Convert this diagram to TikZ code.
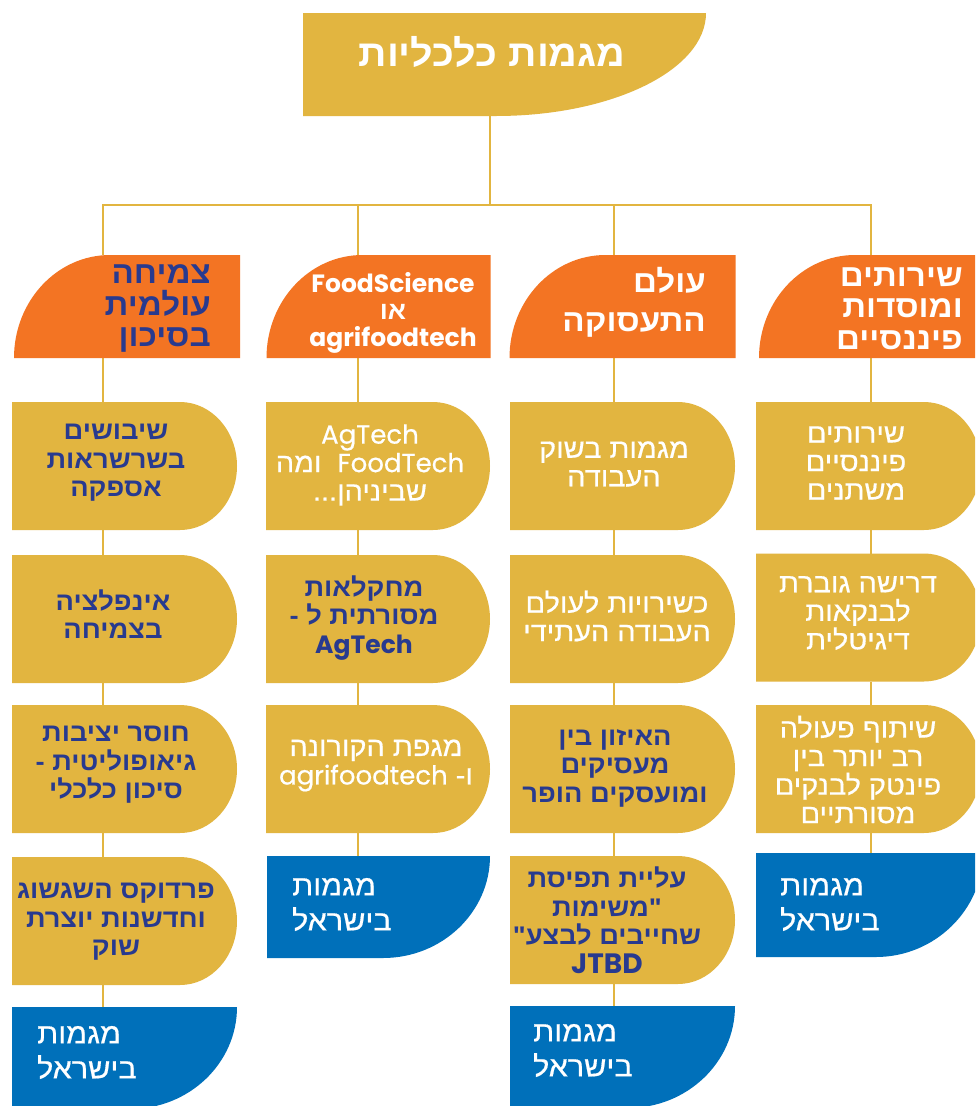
\documentclass[tikz,border=0pt]{standalone}
\usepackage{fontspec}
\setmainfont{Liberation Sans}
\newfontfamily\hebf[Script=Hebrew, FakeStretch=1.07]{Liberation Sans}
\newfontfamily\hebm[Script=Hebrew, FakeStretch=1.07, FakeBold=0.6]{Liberation Sans}
\newfontfamily\latf{Poppins}
\newfontfamily\latm[FakeBold=0.6]{Poppins}
\TeXXeTstate=1
\definecolor{ycol}{HTML}{E2B540}
\definecolor{ocol}{HTML}{F37423}
\definecolor{bcol}{HTML}{0070BA}
\definecolor{dcol}{HTML}{283A8F}
\newcommand\hR[1]{\beginR #1\endR}
\newcommand\hL[1]{\beginL #1\endL}
\newcommand\YShape[1]{\fill[ycol] (#1.north west) -- ([xshift=-57pt]#1.north east) .. controls +(31.5pt,0pt) and +(0pt,35.3pt) .. (#1.east) .. controls +(0pt,-35.3pt) and +(31.5pt,0pt) .. ([xshift=-57pt]#1.south east) -- (#1.south west) -- cycle;}
\newcommand\HShape[1]{\fill[ocol] (#1.south west) .. controls +(0pt,57pt) and +(-53pt,0pt) .. ([xshift=96pt]#1.north west) -- (#1.north east) -- (#1.south east) -- cycle;}
\newcommand\BShape[1]{\fill[bcol] (#1.north west) -- (#1.north east) .. controls +(0pt,-56.3pt) and +(59pt,0pt) .. ([xshift=-107pt]#1.south east) -- (#1.south west) -- cycle;}
\tikzset{
  geo/.style={inner sep=0pt, outer sep=0pt, draw=none},
  hdr/.style={geo, minimum width=226pt, minimum height=103pt},
  ybx/.style={geo, minimum width=225pt, minimum height=128pt},
  bbx/.style={geo, minimum width=225pt, minimum height=102pt},
  conn/.style={draw=ycol, line width=1.3pt},
  hfont/.style={font=\hebf\bfseries\fontsize{31}{31.5}\selectfont, inner sep=0pt},
  ytxt/.style={align=center, inner sep=0pt},
  ydk/.style={ytxt, font=\hebf\bfseries\fontsize{25.5}{28.5}\selectfont, text=dcol},
  ywh/.style={ytxt, font=\hebm\fontsize{27}{28.5}\selectfont, text=white},
  btxt/.style={font=\hebm\fontsize{28.5}{35}\selectfont, text=white, align=left, anchor=west, inner sep=0pt},
}
\begin{document}
\begin{tikzpicture}[x=1pt,y=-1pt]
\clip (0,0) rectangle (975,1106);
\fill[white] (0,0) rectangle (975,1106);
% geometry nodes
\node[geo, minimum width=397pt, minimum height=103pt] (title) at (501.5,64.5) {};
\node[hdr] (h1) at (127,306.5) {};
\node[hdr, minimum width=224pt] (h2) at (378.5,306.5) {};
\node[hdr] (h3) at (622.5,306.5) {};
\node[hdr] (h4) at (872,306.5) {};
\node[ybx] (c1r1) at (124.5,466) {};
\node[ybx] (c1r2) at (124.5,619) {};
\node[ybx] (c1r3) at (124.5,769) {};
\node[ybx] (c1r4) at (124.5,921) {};
\node[bbx] (c1b) at (124.5,1058) {};
\node[ybx, minimum width=224pt] (c2r1) at (378,466) {};
\node[ybx, minimum width=224pt] (c2r2) at (378,619) {};
\node[ybx, minimum width=224pt] (c2r3) at (378,769) {};
\node[bbx, minimum width=223pt] (c2b) at (378.5,907) {};
\node[ybx] (c3r1) at (622.5,466) {};
\node[ybx] (c3r2) at (622.5,619) {};
\node[ybx] (c3r3) at (622.5,769) {};
\node[ybx] (c3r4) at (622.5,920) {};
\node[bbx] (c3b) at (622.5,1057) {};
\node[ybx] (c4r1) at (868.5,466) {};
\node[ybx] (c4r2) at (868.5,617.5) {};
\node[ybx] (c4r3) at (868.5,769) {};
\node[bbx, minimum width=227pt, minimum height=104pt] (c4b) at (869.5,905) {};
% bus coordinates
\coordinate (tx) at (490,205);
\coordinate (b1) at (103,205);
\coordinate (b2) at (358,205);
\coordinate (b3) at (614,205);
\coordinate (b4) at (871,205);
% connectors
\draw[conn] (title.south -| tx) -- (tx);
\draw[conn] (h1.north -| b1) -- (b1) -- (b4) -- (h4.north -| b4);
\draw[conn] (b2) -- (h2.north -| b2);
\draw[conn] (b3) -- (h3.north -| b3);
\draw[conn] (h1.south -| b1) -- (c1r1.north -| b1);
\draw[conn] (c1r1.south -| b1) -- (c1r2.north -| b1);
\draw[conn] (c1r2.south -| b1) -- (c1r3.north -| b1);
\draw[conn] (c1r3.south -| b1) -- (c1r4.north -| b1);
\draw[conn] (c1r4.south -| b1) -- (c1b.north -| b1);
\draw[conn] (h2.south -| b2) -- (c2r1.north -| b2);
\draw[conn] (c2r1.south -| b2) -- (c2r2.north -| b2);
\draw[conn] (c2r2.south -| b2) -- (c2r3.north -| b2);
\draw[conn] (c2r3.south -| b2) -- (c2b.north -| b2);
\draw[conn] (h3.south -| b3) -- (c3r1.north -| b3);
\draw[conn] (c3r1.south -| b3) -- (c3r2.north -| b3);
\draw[conn] (c3r2.south -| b3) -- (c3r3.north -| b3);
\draw[conn] (c3r3.south -| b3) -- (c3r4.north -| b3);
\draw[conn] (c3r4.south -| b3) -- (c3b.north -| b3);
\draw[conn] (h4.south -| b4) -- (c4r1.north -| b4);
\draw[conn] (c4r1.south -| b4) -- (c4r2.north -| b4);
\draw[conn] (c4r2.south -| b4) -- (c4r3.north -| b4);
\draw[conn] (c4r3.south -| b4) -- (c4b.north -| b4);
% shapes
\fill[ycol] (title.north west) -- ([xshift=6pt]title.north east) .. controls +(0pt,-57pt) and +(116pt,0pt) .. ([xshift=-204pt]title.south east) -- (title.south west) -- cycle;
\HShape{h1}\HShape{h2}\HShape{h3}\HShape{h4}
\YShape{c1r1}\YShape{c1r2}\YShape{c1r3}\YShape{c1r4}
\YShape{c2r1}\YShape{c2r2}\YShape{c2r3}
\YShape{c3r1}\YShape{c3r2}\YShape{c3r3}\YShape{c3r4}
\YShape{c4r1}\YShape{c4r2}\YShape{c4r3}
\BShape{c1b}\BShape{c2b}\BShape{c3b}\BShape{c4b}
% texts
\node[font=\hebf\bfseries\fontsize{37}{40}\selectfont, text=white, inner sep=0pt] (tt) at (492,52) {\hR{מגמות כלכליות}};
\node[hfont, text=dcol, align=right, anchor=east] (h1t) at (211,308.5) {\hR{צמיחה}\\\hR{עולמית}\\\hR{בסיכון}};
\node[font=\latf\bfseries\fontsize{25}{27}\selectfont, text=white, align=center, inner sep=0pt] (h2t) at (393,313) {FoodScience\\{\hebf\hR{או}}\\agrifoodtech};
\node[hfont, font=\hebf\bfseries\fontsize{31}{39}\selectfont, text=white, align=right, anchor=east] (h3t) at (706,302.5) {\hR{עולם}\\\hR{התעסוקה}};
\node[hfont, text=white, align=right, anchor=east] (h4t) at (963,308.5) {\hR{שירותים}\\\hR{ומוסדות}\\\hR{פיננסיים}};
% column 1
\node[ydk] (c1r1t) at (116,463) {\hR{שיבושים}\\\hR{בשרשראות}\\\hR{אספקה}};
\node[ydk] (c1r2t) at (113,614) {\hR{אינפלציה}\\\hR{בצמיחה}};
\node[ydk] (c1r3t) at (116,765) {\hR{חוסר יציבות}\\\hR{גיאופוליטית -}\\\hR{סיכון כלכלי}};
\node[ydk] (c1r4t) at (116,922) {\hR{פרדוקס השגשוג}\\\hR{וחדשנות יוצרת}\\\hR{שוק}};
\node[btxt] (c1bt) at (37,1052.5) {\hR{מגמות}\\\hR{בישראל}};
% column 2
\node[ywh] (c2r1t) at (370,465) {{\latm\fontsize{26}{28.5}\selectfont AgTech}\\\hR{\hL{{\latm\fontsize{26}{28.5}\selectfont FoodTech}}~~ומה}\\\hR{שביניהן...}};
\node[ydk] (c2r2t) at (364,618) {\hR{מחקלאות}\\\hR{מסורתית ל -}\\{\latf\bfseries\fontsize{25}{28.5}\selectfont AgTech}};
\node[ywh] (c2r3t) at (376,765.5) {\hR{מגפת הקורונה}\\\hR{ו- \hL{{\latm\fontsize{26}{28.5}\selectfont agrifoodtech}}}};
\node[btxt] (c2bt) at (292,904.5) {\hR{מגמות}\\\hR{בישראל}};
% column 3
\node[ywh] (c3r1t) at (614,464) {\hR{מגמות בשוק}\\\hR{העבודה}};
\node[ywh] (c3r2t) at (617,616) {\hR{כשירויות לעולם}\\\hR{העבודה העתידי}};
\node[ydk] (c3r3t) at (615,768) {\hR{האיזון בין}\\\hR{מעסיקים}\\\hR{ומועסקים הופר}};
\node[ydk] (c3r4t) at (607,920) {\hR{עליית תפיסת}\\\hR{"משימות}\\\hR{שחייבים לבצע"}\\{\latf\bfseries\fontsize{28}{28.5}\selectfont JTBD}};
\node[btxt] (c3bt) at (533,1050.5) {\hR{מגמות}\\\hR{בישראל}};
% column 4
\node[ywh] (c4r1t) at (856,463) {\hR{שירותים}\\\hR{פיננסיים}\\\hR{משתנים}};
\node[ywh] (c4r2t) at (858,613) {\hR{דרישה גוברת}\\\hR{לבנקאות}\\\hR{דיגיטלית}};
\node[ywh] (c4r3t) at (858,769.5) {\hR{שיתוף פעולה}\\\hR{רב יותר בין}\\\hR{פינטק לבנקים}\\\hR{מסורתיים}};
\node[btxt] (c4bt) at (780,904.5) {\hR{מגמות}\\\hR{בישראל}};
\end{tikzpicture}
\end{document}
